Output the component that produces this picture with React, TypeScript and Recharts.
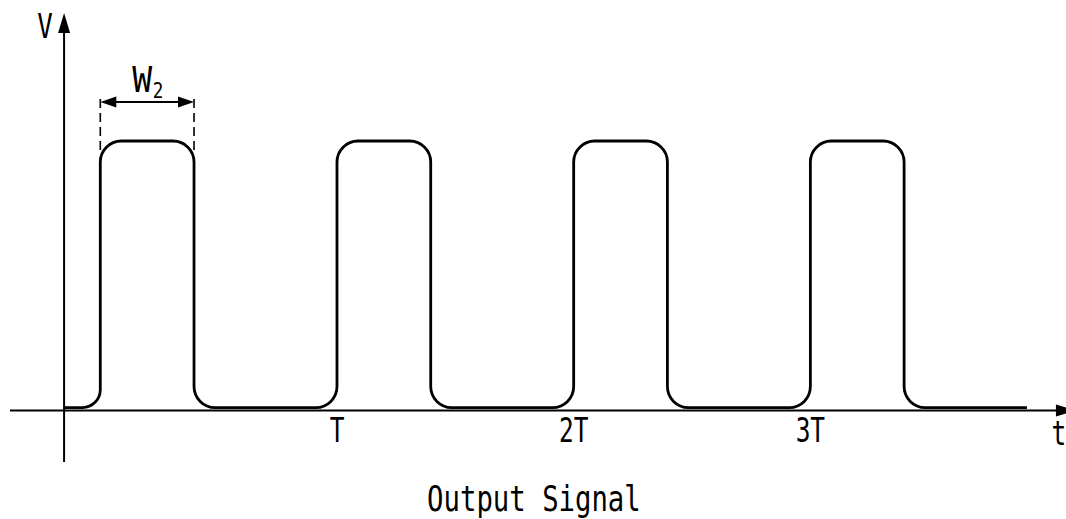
import React from "react";
import { LineChart, Line, XAxis, YAxis, ReferenceLine, ReferenceDot } from "recharts";

// time in units of the period T, level in units of the pulse height
var signalTime = [-0.15, 0, 0, 0.396, 0.396, 1, 1, 1.396, 1.396, 2, 2, 2.396, 2.396, 3, 3, 3.396, 3.396, 3.915];
var signalLevel = [0.011, 0.011, 1, 1, 0.011, 0.011, 1, 1, 0.011, 0.011, 1, 1, 0.011, 0.011, 1, 1, 0.011, 0.011];

var tickValues = [1, 2, 3];
var tickLabels = ["T", "2T", "3T"];

var timeDomain = [-0.3815, 4.08];
var levelDomain = [-0.191, 1.475];
var originT = -0.153;
var timeAxisEnd = 4.122;
var timeLabelT = 4.05;

var pulseWidth = 0.396;
var widthMarkLevel = 1.145;
var dashTop = 1.16;
var dashBottom = 0.967;

var titleT = 1.832;
var title = "Output Signal";

var signalData = signalTime.map(function (t, i) {
  return { t: t, v: signalLevel[i] };
});

var CORNER = 21;
var FONT = "'DejaVu Sans Mono', 'Liberation Mono', monospace";

// square wave with rounded corners: straight segments, arcs at every inner vertex
function roundedCorners(context: any) {
  var pts: number[][] = [];
  return {
    areaStart: function () {},
    areaEnd: function () {},
    lineStart: function () { pts = []; },
    point: function (x: number, y: number) { pts.push([+x, +y]); },
    lineEnd: function () {
      if (!pts.length) return;
      context.moveTo(pts[0][0], pts[0][1]);
      for (var i = 1; i < pts.length - 1; i++) {
        var p = pts[i], q = pts[i - 1], n = pts[i + 1];
        var r = Math.min(
          CORNER,
          Math.hypot(p[0] - q[0], p[1] - q[1]) / 2,
          Math.hypot(n[0] - p[0], n[1] - p[1]) / 2
        );
        context.arcTo(p[0], p[1], n[0], n[1], r);
      }
      var last = pts[pts.length - 1];
      context.lineTo(last[0], last[1]);
    },
  };
}

function arrowHead(tx: number, ty: number, ux: number, uy: number, len: number, half: number) {
  var bx = tx - ux * len, by = ty - uy * len;
  return (
    tx + "," + ty + " " +
    (bx - uy * half) + "," + (by + ux * half) + " " +
    (bx + uy * half) + "," + (by - ux * half)
  );
}

function AxisArrow(props: any) {
  var dx = props.x2 - props.x1, dy = props.y2 - props.y1;
  var len = Math.hypot(dx, dy) || 1;
  var ux = dx / len, uy = dy / len;
  return (
    <g>
      <line x1={props.x1} y1={props.y1} x2={props.x2 - ux * 18} y2={props.y2 - uy * 18} stroke="#000" strokeWidth={2} />
      <polygon points={arrowHead(props.x2, props.y2, ux, uy, 20, 6)} fill="#000" />
    </g>
  );
}

function DoubleArrow(props: any) {
  var dx = props.x2 - props.x1, dy = props.y2 - props.y1;
  var len = Math.hypot(dx, dy) || 1;
  var ux = dx / len, uy = dy / len;
  return (
    <g>
      <line x1={props.x1 + ux * 10} y1={props.y1 + uy * 10} x2={props.x2 - ux * 10} y2={props.y2 - uy * 10} stroke="#000" strokeWidth={2} />
      <polygon points={arrowHead(props.x2, props.y2, ux, uy, 16, 5.5)} fill="#000" />
      <polygon points={arrowHead(props.x1, props.y1, -ux, -uy, 16, 5.5)} fill="#000" />
    </g>
  );
}

function NarrowText({ x, y, text, size, squeeze }: { x: number; y: number; text: string; size: number; squeeze: number }) {
  return (
    <text
      transform={"translate(" + x + "," + y + ") scale(" + squeeze + ",1)"}
      textAnchor="middle"
      fontFamily={FONT}
      fontSize={size}
      fill="#000"
    >
      {text}
    </text>
  );
}

export default function App() {
  return (
    <div style={{ position: "absolute", left: 0, top: 0, width: 1066, height: 519, background: "#fff" }}>
      <LineChart width={1066} height={519} data={signalData} margin={{ top: 13, right: 0, bottom: 57, left: 10 }}>
        <XAxis dataKey="t" type="number" domain={timeDomain} allowDataOverflow hide />
        <YAxis type="number" domain={levelDomain} allowDataOverflow hide />

        <ReferenceLine
          segment={[{ x: timeDomain[0], y: 0 }, { x: timeAxisEnd, y: 0 }]}
          ifOverflow="visible"
          shape={AxisArrow}
        />
        <ReferenceLine
          segment={[{ x: originT, y: levelDomain[0] }, { x: originT, y: levelDomain[1] }]}
          ifOverflow="visible"
          shape={AxisArrow}
        />

        {/* W2 dimension mark over the first pulse */}
        <ReferenceLine
          segment={[{ x: 0, y: dashBottom }, { x: 0, y: dashTop }]}
          ifOverflow="visible"
          stroke="#000"
          strokeWidth={1.6}
          strokeDasharray="9 5"
        />
        <ReferenceLine
          segment={[{ x: pulseWidth, y: dashBottom }, { x: pulseWidth, y: dashTop }]}
          ifOverflow="visible"
          stroke="#000"
          strokeWidth={1.6}
          strokeDasharray="9 5"
        />
        <ReferenceLine
          segment={[{ x: 0, y: widthMarkLevel }, { x: pulseWidth, y: widthMarkLevel }]}
          ifOverflow="visible"
          shape={DoubleArrow}
        />
        <ReferenceDot
          x={pulseWidth / 2}
          y={widthMarkLevel}
          ifOverflow="visible"
          shape={function (p: any) {
            return (
              <g>
                <NarrowText x={p.cx - 5} y={p.cy - 10} text="W" size={36} squeeze={0.92} />
                <NarrowText x={p.cx + 11} y={p.cy - 4} text="2" size={22} squeeze={0.8} />
              </g>
            );
          }}
        />

        <Line
          dataKey="v"
          type={roundedCorners as any}
          stroke="#000"
          strokeWidth={2.8}
          dot={false}
          activeDot={false}
          isAnimationActive={false}
        />

        {tickValues.map(function (t, i) {
          return (
            <ReferenceDot
              key={"tick-" + t}
              x={t}
              y={0}
              ifOverflow="visible"
              shape={function (p: any) {
                return <NarrowText x={p.cx} y={p.cy + 31.5} text={tickLabels[i]} size={34} squeeze={0.72} />;
              }}
            />
          );
        })}
        <ReferenceDot
          x={timeLabelT}
          y={0}
          ifOverflow="visible"
          shape={function (p: any) {
            return <NarrowText x={p.cx} y={p.cy + 34.5} text="t" size={34} squeeze={0.72} />;
          }}
        />
        <ReferenceDot
          x={originT}
          y={levelDomain[1]}
          ifOverflow="visible"
          shape={function (p: any) {
            return <NarrowText x={p.cx - 19} y={p.cy + 25} text="V" size={34} squeeze={0.76} />;
          }}
        />
        <ReferenceDot
          x={titleT}
          y={levelDomain[0]}
          ifOverflow="visible"
          shape={function (p: any) {
            return <NarrowText x={p.cx} y={p.cy + 49} text={title} size={35} squeeze={0.78} />;
          }}
        />
      </LineChart>
    </div>
  );
}
